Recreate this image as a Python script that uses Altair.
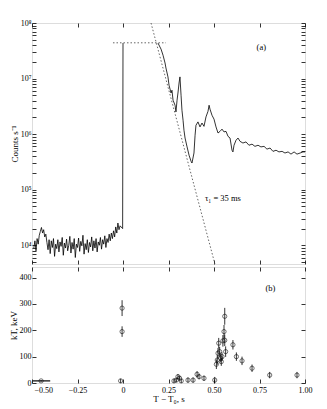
import altair as alt
import pandas as pd
import numpy as np

# ---------------- data ----------------
# pre-burst light curve (sampling grid, log10 counts/s)
pre_t = [round(-0.49 + 0.006 * i, 3) for i in range(80)]
pre_log = [3.95, 4.08, 3.90, 4.12, 4.02, 4.18, 4.25, 4.32, 4.22, 4.28,
           4.15, 4.20, 4.05, 3.92, 4.10, 3.85, 4.08, 3.96, 4.12, 3.80,
           4.02, 3.94, 4.10, 3.88, 4.06, 3.98, 4.14, 3.82, 4.04, 3.95,
           4.11, 3.90, 4.00, 4.16, 3.86, 4.05, 3.93, 4.12, 3.78, 4.02,
           3.96, 4.13, 3.89, 4.07, 3.99, 4.18, 3.84, 4.03, 3.92, 4.10,
           3.87, 4.05, 3.97, 4.15, 3.90, 4.08, 3.95, 4.12, 3.88, 4.06,
           4.00, 4.14, 3.93, 4.10, 4.02, 4.17, 3.96, 4.12, 4.05, 4.20,
           4.08, 4.22, 4.12, 4.26, 4.15, 4.33, 4.22, 4.40, 4.28, 4.35]
rise_t = [-0.002, 0.0]
rise_log = [4.30, 7.64]

# post-saturation light curve
post_t = [0.192, 0.209, 0.220, 0.231, 0.236, 0.247, 0.253, 0.264, 0.269, 0.275,
          0.286, 0.291, 0.297, 0.302, 0.308, 0.313, 0.319, 0.324, 0.330, 0.335,
          0.341, 0.352, 0.363, 0.374, 0.379, 0.390, 0.396, 0.401, 0.412, 0.423,
          0.434, 0.445, 0.456, 0.467, 0.473, 0.478, 0.489, 0.500, 0.511, 0.522,
          0.533, 0.544, 0.555, 0.566, 0.577, 0.588, 0.599, 0.604, 0.610, 0.621,
          0.632, 0.643, 0.659, 0.676, 0.692, 0.709, 0.725, 0.742, 0.758, 0.775,
          0.791, 0.808, 0.824, 0.841, 0.857, 0.874, 0.890, 0.907, 0.923, 0.940,
          0.956, 0.973, 0.989, 1.0]
post_log = [7.64, 7.53, 7.42, 7.28, 7.19, 7.03, 6.88, 6.74, 6.79, 6.61,
            6.52, 6.40, 6.61, 6.74, 6.92, 7.03, 6.70, 6.43, 6.25, 6.07,
            5.93, 5.77, 5.62, 5.51, 5.48, 5.66, 5.98, 6.16, 6.22, 6.13,
            6.20, 6.14, 6.31, 6.41, 6.52, 6.45, 6.34, 6.27, 6.13, 6.02,
            6.05, 6.09, 6.04, 6.05, 5.96, 5.93, 5.71, 5.68, 5.80, 5.89,
            5.93, 5.87, 5.84, 5.86, 5.80, 5.82, 5.78, 5.80, 5.77, 5.78,
            5.73, 5.75, 5.69, 5.71, 5.68, 5.69, 5.66, 5.68, 5.64, 5.68,
            5.64, 5.66, 5.68, 5.68]

# dotted guides
sat_t = [-0.055, 0.236]
sat_counts = [4.4e7, 4.4e7]
exp_t = [0.154, 0.505]
exp_counts = [1.0e8, 4.6e3]

# kT points
kt_t = [-0.45, -0.013, -0.005, -0.005, 0.280, 0.293, 0.302, 0.311, 0.320, 0.357,
        0.385, 0.407, 0.418, 0.445, 0.504, 0.513, 0.518, 0.522, 0.526, 0.531,
        0.537, 0.540, 0.544, 0.549, 0.555, 0.559, 0.559, 0.564, 0.604, 0.623,
        0.654, 0.709, 0.806, 0.956]
kt_val = [8, 8, 195, 284, 8, 11, 24, 18, 8, 11,
          11, 33, 24, 18, 11, 71, 87, 113, 151, 119,
          94, 81, 100, 160, 195, 253, 162, 119, 145, 100,
          84, 56, 30, 30]
kt_err = [3, 8, 20, 30, 8, 8, 10, 8, 8, 10,
          10, 12, 10, 10, 12, 18, 18, 20, 20, 18,
          16, 16, 16, 22, 25, 32, 22, 20, 18, 16,
          16, 14, 12, 12]
hbar_t = [-0.495, -0.40]
hbar_kt = [8, 8]

x_ticks = [-0.5, -0.25, 0, 0.25, 0.5, 0.75, 1.0]

# ---------------- frames ----------------
seg1 = pd.DataFrame({"t": pre_t + rise_t,
                     "c": [10 ** v for v in pre_log + rise_log]})
seg2 = pd.DataFrame({"t": post_t, "c": [10 ** v for v in post_log]})
sat = pd.DataFrame({"t": sat_t, "c": sat_counts})
expd = pd.DataFrame({"t": exp_t, "c": exp_counts})
kt = pd.DataFrame({"t": kt_t, "kt": kt_val,
                   "lo": [v - e for v, e in zip(kt_val, kt_err)],
                   "hi": [v + e for v, e in zip(kt_val, kt_err)]})
hb = pd.DataFrame({"t": hbar_t[:1], "t2": hbar_t[1:], "kt": hbar_kt[:1]})

ann_a = pd.DataFrame({"t": [0.76], "c": [3.7e7], "s": ["(a)"]})
ann_tau = pd.DataFrame({"t": [0.45], "c": [7.2e4], "s": ["τ₁ = 35 ms"]})
ann_b = pd.DataFrame({"t": [0.81], "kt": [362], "s": ["(b)"]})

log_ticks = [k * 10 ** e for e in range(3, 8) for k in range(1, 10)
             if 4600 <= k * 10 ** e <= 1e8] + [1e8]

xdom = alt.Scale(domain=[-0.5, 1.0], nice=False, zero=False)
ydom_top = alt.Scale(type="log", domain=[4600, 1e8], nice=False)
ydom_bot = alt.Scale(domain=[0, 440], nice=False, zero=False)

FONT = "Liberation Serif"
TICK = dict(tickSize=4, offset=-4, domain=False, tickColor="black",
            tickWidth=0.8, labelFont=FONT, labelFontSize=8, labelColor="black",
            titleFont=FONT, titleFontSize=9, titleColor="black",
            titleFontWeight="normal", grid=False, labelFlush=False)

sup_expr = ("abs(log(datum.value)/LN10 - round(log(datum.value)/LN10)) < 0.001 ? "
            "'10' + ['⁰','¹','²','³','⁴','⁵','⁶','⁷','⁸'][round(log(datum.value)/LN10)] : ''")

# ---------------- top panel ----------------
l1 = alt.Chart(seg1).mark_line(color="black", strokeWidth=0.8, clip=True).encode(
    x=alt.X("t:Q", scale=xdom,
            axis=alt.Axis(orient="bottom", values=x_ticks, labels=False, title=None, **TICK)),
    y=alt.Y("c:Q", scale=ydom_top,
            axis=alt.Axis(orient="left", values=log_ticks, labelExpr=sup_expr,
                          labelOverlap=False, labelPadding=1, title="Counts s⁻¹",
                          titlePadding=1, **TICK)),
)
l2 = alt.Chart(seg2).mark_line(color="black", strokeWidth=0.8, clip=True).encode(
    x=alt.X("t:Q", scale=xdom,
            axis=alt.Axis(orient="top", values=x_ticks, labels=False, title=None, **TICK)),
    y=alt.Y("c:Q", scale=ydom_top,
            axis=alt.Axis(orient="right", values=log_ticks, labels=False, title=None, **TICK)),
)
l3 = alt.Chart(sat).mark_line(color="#555555", strokeWidth=0.9, strokeDash=[1.5, 2],
                              clip=True).encode(
    x=alt.X("t:Q", scale=xdom, axis=None),
    y=alt.Y("c:Q", scale=ydom_top, axis=None),
)
l4 = alt.Chart(expd).mark_line(color="#555555", strokeWidth=0.9, strokeDash=[1.5, 2],
                               clip=True).encode(
    x=alt.X("t:Q", scale=xdom, axis=None),
    y=alt.Y("c:Q", scale=ydom_top, axis=None),
)
l5 = alt.Chart(ann_a).mark_text(font=FONT, fontSize=8.5, color="black").encode(
    x=alt.X("t:Q", scale=xdom, axis=None),
    y=alt.Y("c:Q", scale=ydom_top, axis=None), text="s:N")
l6 = alt.Chart(ann_tau).mark_text(font=FONT, fontSize=8.5, color="black", align="left").encode(
    x=alt.X("t:Q", scale=xdom, axis=None),
    y=alt.Y("c:Q", scale=ydom_top, axis=None), text="s:N")

top = alt.layer(l1, l2, l3, l4, l5, l6).resolve_axis(x="independent", y="independent") \
    .properties(width=273, height=241)

# ---------------- bottom panel ----------------
b1 = alt.Chart(kt).mark_point(shape="circle", filled=False, color="black", size=18,
                              strokeWidth=0.8).encode(
    x=alt.X("t:Q", scale=xdom,
            axis=alt.Axis(orient="bottom", values=x_ticks, title="T − T₀, s",
                          labelExpr="datum.value == 0 ? '0' : format(datum.value, '.2f')",
                          labelAlign={"condition": {"test": "datum.value < -0.4", "value": "left"},
                                      "value": "center"},
                          labelOffset={"condition": {"test": "datum.value < -0.4", "value": 2},
                                       "value": 0},
                          labelPadding=3, titlePadding=0, **TICK)),
    y=alt.Y("kt:Q", scale=ydom_bot,
            axis=alt.Axis(orient="left", values=[0, 100, 200, 300, 400], title="kT, keV",
                          labelPadding=1, titlePadding=1, **TICK)),
)
b2 = alt.Chart(kt).mark_rule(color="black", strokeWidth=0.8).encode(
    x=alt.X("t:Q", scale=xdom,
            axis=alt.Axis(orient="top", values=x_ticks, labels=False, title=None, **TICK)),
    y=alt.Y("lo:Q", scale=ydom_bot,
            axis=alt.Axis(orient="right", values=[0, 100, 200, 300, 400], labels=False,
                          title=None, **TICK)),
    y2="hi:Q",
)
b3 = alt.Chart(hb).mark_rule(color="black", strokeWidth=1.2).encode(
    x=alt.X("t:Q", scale=xdom, axis=None), x2="t2:Q",
    y=alt.Y("kt:Q", scale=ydom_bot, axis=None),
)
b4 = alt.Chart(ann_b).mark_text(font=FONT, fontSize=8.5, color="black").encode(
    x=alt.X("t:Q", scale=xdom, axis=None),
    y=alt.Y("kt:Q", scale=ydom_bot, axis=None), text="s:N")

bottom = alt.layer(b1, b2, b3, b4).resolve_axis(x="independent", y="independent") \
    .properties(width=273, height=116)

chart = alt.vconcat(top, bottom, spacing=-7).properties(
    padding={"left": 0, "top": 10, "right": 5, "bottom": 2}
).configure_view(stroke="black", strokeWidth=1).configure(font=FONT)

chart.save("out.html", embed_options={"renderer": "svg", "actions": False})
